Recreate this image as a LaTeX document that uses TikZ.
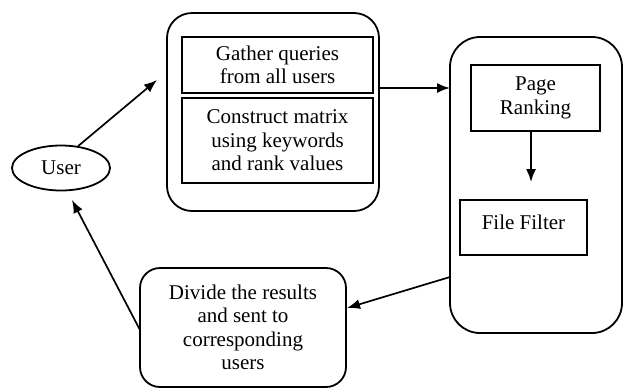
\documentclass[tikz,border=0pt]{standalone}
\usepackage{fontspec}
\setmainfont{Liberation Serif}
\usetikzlibrary{shapes.geometric,arrows.meta,calc}
\begin{document}
\begin{tikzpicture}[x=1pt,y=-1pt,
  every node/.style={font=\fontsize{21}{23.5}\selectfont, align=center},
  rbox/.style={draw, line width=1.8pt, inner sep=0pt},
  sbox/.style={draw, line width=1.6pt, inner sep=0pt},
  arr/.style={line width=1.7pt, -{Latex[length=13pt,width=10pt]}}]
\useasboundingbox (0,0) rectangle (626,389);
\node[ellipse, draw, line width=1.8pt, minimum width=98pt, minimum height=45pt, inner sep=0pt] (user) at (61,168) {User};
\node[rbox, rounded corners=25pt, minimum width=212pt, minimum height=198pt] (box1) at (273,112) {};
\node[sbox, minimum width=191pt, minimum height=56pt] (gather) at (277.5,65) {Gather queries\\from all users};
\node[sbox, minimum width=191pt, minimum height=85pt] (construct) at (277.5,140.5) {Construct matrix\\using keywords\\and rank values};
\node[rbox, rounded corners=30pt, minimum width=172pt, minimum height=296pt] (box2) at (536,185) {};
\node[sbox, minimum width=129pt, minimum height=66pt] (page) at (535.5,98) {Page\\Ranking};
\node[sbox, minimum width=127pt, minimum height=55pt, text depth=11pt] (filter) at (523.5,227.5) {File Filter};
\node[rbox, rounded corners=20pt, minimum width=206pt, minimum height=119pt] (divide) at (243,327.5) {Divide the results\\and sent to\\corresponding\\users};
\coordinate (a1) at (157,80);
\coordinate (b1s) at (379,88);
\coordinate (b1e) at (450,88);
\coordinate (ps) at (531,131);
\coordinate (pe) at (531,182);
\coordinate (ds) at (450,277);
\coordinate (de) at (347,308);
\coordinate (us) at (140,330);
\coordinate (ue) at (72,200);
\draw[arr] (user.52) -- (a1);
\draw[arr] (b1s) -- (b1e);
\draw[arr] (ps) -- (pe);
\draw[arr] (ds) -- (de);
\draw[arr] (us) -- (ue);
\end{tikzpicture}
\end{document}
